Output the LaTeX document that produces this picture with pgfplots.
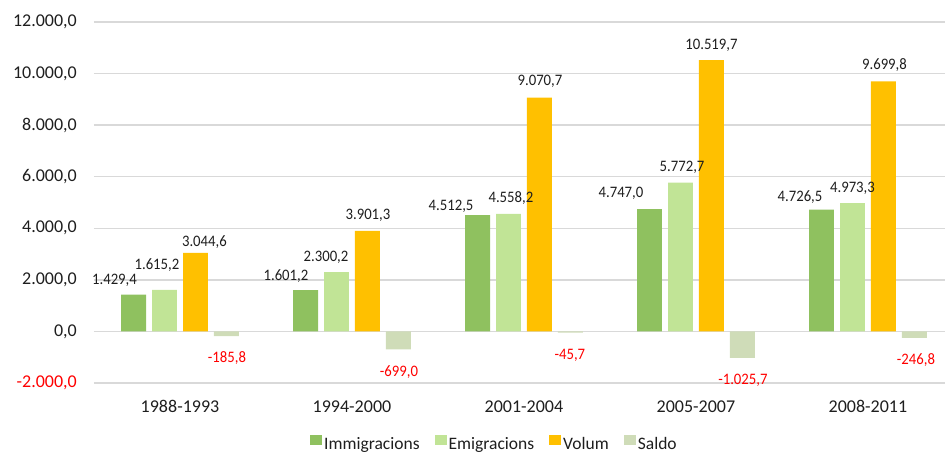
\documentclass[border=0pt]{standalone}
\usepackage{fontspec}
\setmainfont{Carlito}
\newfontfamily\dlfam[FakeStretch=0.92]{Carlito}
\usepackage{pgfplots}
\pgfplotsset{compat=1.18}
\usepackage{pgfplotstable}
\definecolor{immc}{RGB}{143,193,95}
\definecolor{emic}{RGB}{193,228,150}
\definecolor{volc}{RGB}{255,192,0}
\definecolor{salc}{RGB}{207,220,184}
\definecolor{gridc}{RGB}{217,217,217}
\definecolor{txtc}{RGB}{30,30,30}
\newcommand\dlf{\fontsize{16bp}{18bp}\selectfont\dlfam}

\pgfplotstableread{
x y lab
-0.381 1817 1.429,4
0.616 1973 1.601,2
1.576 4691 4.512,5
2.564 5196 4.747,0
3.605 5041 4.726,5
-0.134 2400 1.615,2
0.849 2711 2.300,2
1.924 5002 4.558,2
2.919 6206 5.772,7
3.910 5390 4.973,3
0.142 3293 3.044,6
1.093 4342 3.901,3
2.093 9526 9.070,7
3.090 10944 10.519,7
4.096 10167 9.699,8
}\poslabels

\pgfplotstableread{
x y lab
0.273 -1212 -185,8
1.273 -1755 -699,0
2.267 -1095 -45,7
3.273 -2066 -1.025,7
4.279 -1289 -246,8
}\neglabels

\begin{document}
\begin{tikzpicture}
\useasboundingbox (-94bp,-71bp) rectangle (851bp,383bp);
\begin{axis}[
  scale only axis,
  width=851bp, height=361bp,
  xmin=-0.5, xmax=4.448,
  ymin=-2000, ymax=12000,
  scaled y ticks=false,
  axis line style={draw=none},
  major tick length=0pt,
  ytick={-2000,0,2000,4000,6000,8000,10000,12000},
  yticklabels={{\color{red}-2.000,0},{0,0},{2.000,0},{4.000,0},{6.000,0},{8.000,0},{10.000,0},{12.000,0}},
  yticklabel style={font=\fontsize{18bp}{20bp}\selectfont, text=txtc, anchor=east, inner sep=0pt, xshift=-17bp},
  xtick={0,1,2,3,4},
  xticklabels={1988-1993,1994-2000,2001-2004,2005-2007,2008-2011},
  xticklabel style={font=\fontsize{18bp}{20bp}\selectfont, text=txtc, anchor=north, inner sep=0pt, yshift=-17.5bp},
  ymajorgrids, xmajorgrids=false,
  grid style={gridc, line width=1.3bp},
  clip=false,
  legend columns=4,
  legend style={draw=none, fill=none, at={(0.4694,-0.166)}, anchor=center,
    font=\fontsize{17.5bp}{20bp}\selectfont, text=txtc,
    nodes={inner sep=0pt},
    /tikz/every odd column/.style={column sep=2bp},
    /tikz/every even column/.style={column sep=15bp}},
  legend image code/.code={\fill[#1] (0bp,0bp) rectangle (12bp,10bp);},
]
\addplot[ybar, bar width=0.145, bar shift=-0.27, fill=immc, draw=none]
  coordinates {(0,1429.4) (1,1601.2) (2,4512.5) (3,4747.0) (4,4726.5)};
\addlegendentry{Immigracions}
\addplot[ybar, bar width=0.145, bar shift=-0.09, fill=emic, draw=none]
  coordinates {(0,1615.2) (1,2300.2) (2,4558.2) (3,5772.7) (4,4973.3)};
\addlegendentry{Emigracions}
\addplot[ybar, bar width=0.145, bar shift=0.09, fill=volc, draw=none]
  coordinates {(0,3044.6) (1,3901.3) (2,9070.7) (3,10519.7) (4,9699.8)};
\addlegendentry{Volum}
\addplot[ybar, bar width=0.145, bar shift=0.27, fill=salc, draw=none]
  coordinates {(0,-185.8) (1,-699.0) (2,-45.7) (3,-1025.7) (4,-246.8)};
\addlegendentry{Saldo}
\addplot[draw=none, mark=none, forget plot, nodes near coords, point meta=explicit symbolic,
  nodes near coords align={anchor=base},
  every node near coord/.append style={anchor=base, inner sep=0pt, font=\dlf, text=txtc}]
  table[x=x, y=y, meta=lab] {\poslabels};
\addplot[draw=none, mark=none, forget plot, nodes near coords, point meta=explicit symbolic,
  nodes near coords align={anchor=base},
  every node near coord/.append style={anchor=base, inner sep=0pt, font=\dlf, text=red}]
  table[x=x, y=y, meta=lab] {\neglabels};
\end{axis}
\end{tikzpicture}
\end{document}
